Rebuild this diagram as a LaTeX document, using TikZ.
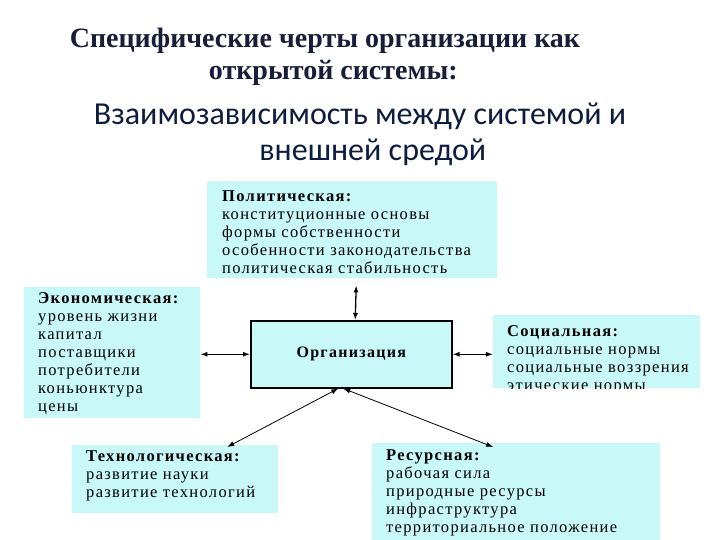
\documentclass[tikz,border=0pt]{standalone}
\usepackage{fontspec}
\setmainfont{Liberation Serif}
\newfontfamily\headsans{Carlito}
\newfontfamily\boxfont[LetterSpace=8]{Liberation Serif}
\usetikzlibrary{arrows.meta}
\definecolor{boxcyan}{RGB}{200,248,248}
\definecolor{titlenavy}{RGB}{24,30,58}
\definecolor{subnavy}{RGB}{14,28,64}

\tikzset{
  envbox/.style={fill=boxcyan, inner sep=0pt, anchor=north west},
  orgbox/.style={draw=black, line width=1.5pt, fill=boxcyan, inner sep=0pt, anchor=north west},
  boxtext/.style={anchor=north west, align=left, inner sep=0pt, font=\boxfont\fontsize{16.5}{18}\selectfont},
  link/.style={line width=1.3pt, {Latex[length=7pt,width=5pt]}-{Latex[length=7pt,width=5pt]}},
  thinlink/.style={line width=0.8pt, {Latex[length=7pt,width=5pt]}-{Latex[length=7pt,width=5pt]}}
}

\begin{document}
\begin{tikzpicture}[x=1pt,y=-1pt]

% Background
\useasboundingbox[fill=white] (0,0) rectangle (720,540);

% Title
\node[font=\bfseries\fontsize{28}{32}\selectfont, text=titlenavy, align=center] (title) at (325,57) {Специфические черты организации как\\\hspace*{0.6em}открытой системы:};
\node[font=\headsans\fontsize{32}{36}\selectfont, text=subnavy, align=center] (subtitle) at (360,134) {Взаимозависимость между системой и\\\hspace*{0.8em}внешней средой};

% Boxes
\node[envbox, minimum width=290, minimum height=97] (polit) at (207,181) {};
\node[envbox, minimum width=176, minimum height=131] (econ) at (24,287) {};
\node[envbox, minimum width=207, minimum height=73] (social) at (493,315) {};
\node[envbox, minimum width=206, minimum height=68] (tech) at (72,445) {};
\node[envbox, minimum width=288, minimum height=97] (res) at (372,443) {};
\node[orgbox, minimum width=201, minimum height=67] (org) at (250,320) {};
\node[font=\boxfont\bfseries\fontsize{16}{18}\selectfont] (orgname) at (org.center) {Организация};

% Texts
\node[boxtext] (politxt) at (222,190) {\textbf{Политическая:}\\конституционные основы\\формы собственности\\особенности законодательства\\политическая стабильность};
\node[boxtext] (econtxt) at (38,292) {\textbf{Экономическая:}\\уровень жизни\\капитал\\поставщики\\потребители\\коньюнктура\\цены};
\begin{scope}
\clip (493,315) rectangle (700,388);
\node[boxtext] (socialtxt) at (507,325) {\textbf{Социальная:}\\социальные нормы\\социальные воззрения\\этические нормы};
\end{scope}
\node[boxtext] (techtxt) at (86,450) {\textbf{Технологическая:}\\развитие науки\\развитие технологий};
\node[boxtext] (restxt) at (386,449) {\textbf{Ресурсная:}\\рабочая сила\\природные ресурсы\\инфраструктура\\территориальное положение};

% Links
\draw[link] ([xshift=4pt,yshift=-7pt]polit.south) -- ([xshift=4pt]org.north |- org.north);
\draw[link] (econ.east |- org.west) -- (org.west);
\draw[link] (org.east) -- (social.west |- org.east);
\draw[thinlink] ([xshift=-13pt]org.south) -- ([xshift=52pt,yshift=-2pt]tech.north);
\draw[thinlink] ([xshift=-8pt]org.south) -- ([xshift=-23pt,yshift=-4pt]res.north);

\end{tikzpicture}
\end{document}
